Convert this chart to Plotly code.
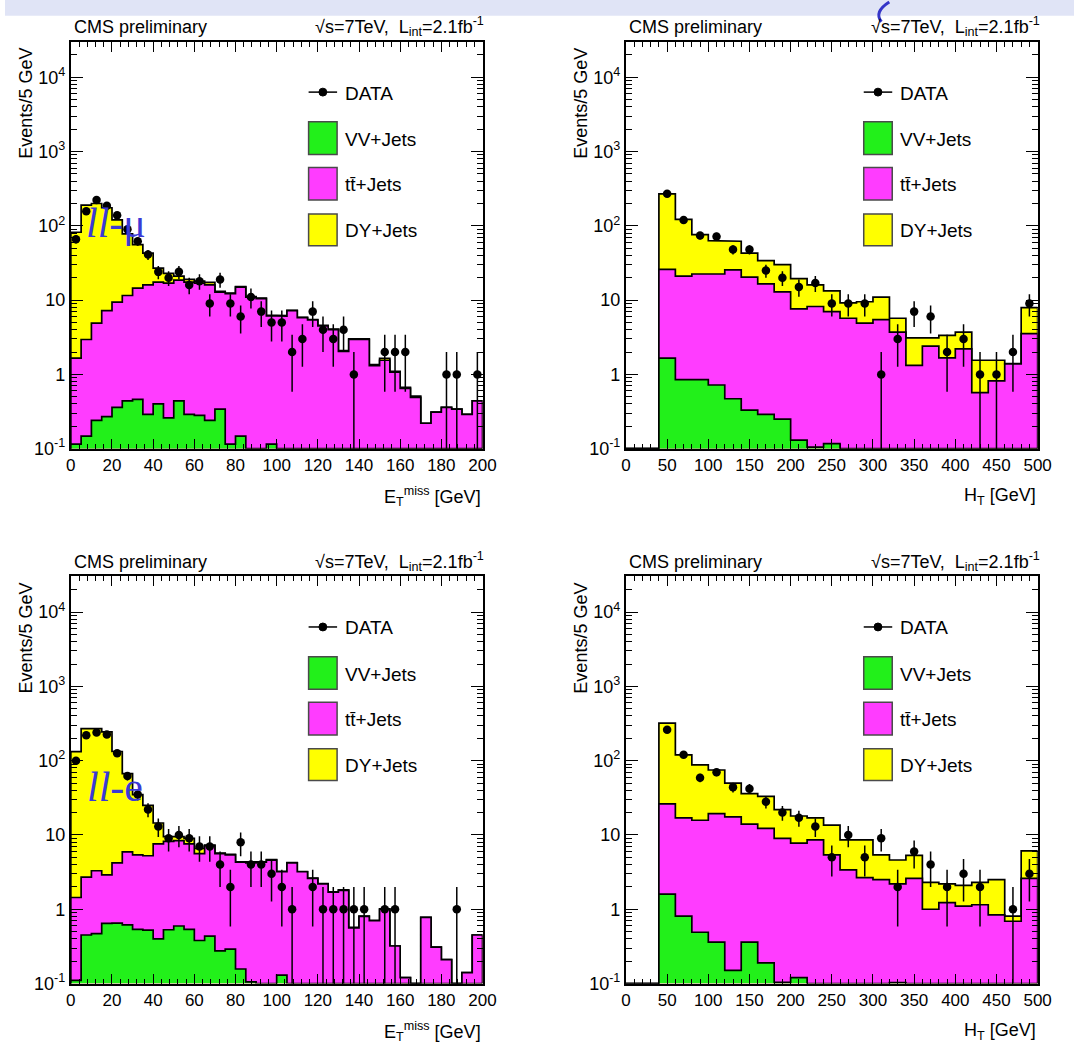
import numpy as np
import plotly.graph_objects as go

W, H = 1088, 1050
FONT = "Liberation Sans, Arial, Helvetica, sans-serif"
SERIF = "Liberation Serif, Times New Roman, serif"
GREEN = "#22f01a"
MAGENTA = "#ff3cff"
YELLOW = "#ffff00"
FLOOR = 0.1

# ---------------- data ----------------
met_edges = np.arange(0, 205, 5)
ht_edges = np.arange(0, 520, 20)

# ll-mu, MET
mu_met_vv = [0.115, 0.148, 0.24, 0.27, 0.36, 0.44, 0.46, 0.29, 0.40, 0.26,
             0.44, 0.29, 0.28, 0.24, 0.34, 0.115, 0.148, 0.10, 0.09, 0.115,
             0, 0, 0, 0, 0, 0, 0, 0, 0, 0,
             0, 0, 0, 0, 0, 0, 0, 0, 0, 0]
mu_met_tt = [1.54, 2.80, 4.66, 6.93, 9.04, 11.1, 14.0, 15.7, 17.1, 16.7,
             18.1, 17.2, 16.7, 15.8, 12.5, 12.1, 14.8, 10.9, 10.4, 6.0,
             6.1, 7.2, 5.8, 5.4, 4.5, 4.0, 2.04, 2.95, 2.95, 1.31,
             1.55, 1.07, 0.65, 0.49, 0.22, 0.31, 0.36, 0.34, 0.29, 0.44]
mu_met_dy = [80.3, 187, 195, 168, 110.6, 66.5, 41.5, 27.0, 9.5, 6.0,
             2.5, 1.5, 1.0, 1.3, 0.3, 0.2, 0.2, 0.15, 0.15, 0.1,
             0.1, 0.1, 0.08, 0.08, 0.06, 0.06, 0.05, 0.05, 0.05, 0.04,
             0.10, 0.03, 0.02, 0.02, 0, 0, 0, 0, 0, 0]
mu_met_data = [66, 157, 222, 186, 139, 90, 62, 41, 24, 20,
               24, 16, 18, 9, 19, 9, 6, 11, 7, 5,
               5, 2, 3, 7, 4, 3, 4, 1, 0, 0,
               2, 2, 2, 0, 0, 0, 1, 1, 0, 1]

# ll-mu, HT
mu_ht_vv = [0, 0, 1.66, 0.85, 0.85, 0.72, 0.47, 0.33, 0.29, 0.25, 0.13, 0.105, 0.117,
            0, 0, 0, 0, 0, 0, 0, 0, 0, 0, 0, 0]
mu_ht_tt = [0, 0, 24.3, 20.2, 21.6, 21.8, 25.1, 20.0, 16.3, 12.65, 7.47, 8.1, 6.88,
            5.7, 4.9, 5.45, 3.7, 1.32, 2.4, 1.67, 2.2, 0.57, 0.82, 1.38, 3.55]
mu_ht_dy = [0, 0, 244, 101, 53.5, 40.5, 36.4, 22.7, 17.4, 17.1, 11.9, 7.8, 6.3,
            3.5, 4.6, 5.55, 2.0, 1.78, 0.7, 1.68, 1.5, 0.98, 0.73, 0.02, 4.35]
mu_ht_data = [0, 0, 270, 120, 74, 72, 48, 48, 25, 20, 15, 17, 9,
              9, 9, 1, 3, 7, 6, 2, 3, 1, 1, 2, 9]

# ll-e, MET
e_met_vv = [0.11, 0.45, 0.47, 0.645, 0.65, 0.615, 0.535, 0.525, 0.40, 0.53,
            0.595, 0.535, 0.38, 0.435, 0.275, 0.29, 0.157, 0.105, 0, 0,
            0.13, 0.10, 0, 0, 0, 0, 0, 0, 0, 0,
            0, 0, 0, 0, 0, 0, 0, 0, 0, 0]
e_met_tt = [1.33, 2.25, 2.83, 2.26, 3.55, 5.29, 4.87, 4.73, 7.2, 7.67,
            7.8, 7.07, 5.22, 6.77, 5.33, 5.11, 4.14, 4.1, 4.3, 4.6,
            3.07, 4.1, 3.2, 2.6, 2.2, 1.7, 1.8, 0.56, 0.8, 0.7,
            1.0, 0.32, 0.12, 0, 0.78, 0.31, 0.21, 0, 0.14, 0.45]
e_met_dy = [130.6, 267.3, 266.7, 242.1, 128.8, 61.1, 29.6, 19.75, 6.9, 1.3,
            1.1, 1.4, 1.0, 0.1, 0.1, 0.1, 0.05, 0.05, 0.05, 0.05,
            0.05, 0.05, 0.02, 0.02, 0.02, 0.02, 0.02, 0.01, 0.01, 0.01,
            0.01, 0, 0, 0, 0, 0, 0, 0, 0, 0]
e_met_data = [100, 220, 240, 225, 126, 62, 35, 22, 13, 9,
              10, 9, 7, 7, 4, 2, 8, 4, 4, 3,
              2, 1, 0, 2, 1, 1, 1, 1, 1, 0,
              1, 1, 0, 0, 0, 0, 0, 1, 0, 0]

# ll-e, HT
e_ht_vv = [0, 0, 1.6, 0.81, 0.49, 0.36, 0.15, 0.36, 0.19, 0.104, 0.12, 0, 0,
           0, 0, 0, 0.103, 0, 0, 0, 0, 0, 0, 0, 0]
e_ht_tt = [0, 0, 24.7, 16.2, 15.3, 19.0, 17.35, 13.64, 12.1, 8.9, 7.63, 8.6, 5.4,
           3.4, 2.66, 2.5, 2.1, 2.6, 1.0, 1.23, 1.1, 1.15, 0.84, 0.69, 2.6]
e_ht_dy = [0, 0, 293.7, 103, 72.2, 55.6, 32.5, 22, 20.7, 13, 10.25, 8.4, 8.2,
           5.2, 5.94, 2.9, 2.4, 2.7, 1.3, 0.97, 1.0, 1.15, 1.66, 0.12, 3.5]
e_ht_data = [0, 0, 260, 120, 59, 70, 44, 42, 28, 20, 17, 13, 5,
             10, 5, 9, 2, 6, 4, 2, 3, 2, 0, 1, 3]

y_tickvals = [0.1, 1, 10, 100, 1000, 10000]
y_ticktext = ["10<sup>-1</sup>", "1", "10", "10<sup>2</sup>", "10<sup>3</sup>", "10<sup>4</sup>"]
legend_labels = ["DATA", "VV+Jets", "tt\u0304+Jets", "DY+Jets"]

MET_TITLE = "E<sub>T</sub><sup>miss</sup> [GeV]"
HT_TITLE = "H<sub>T</sub> [GeV]"

panels = [
    dict(px=(67, 486), py=(42, 453), edges=met_edges, vv=mu_met_vv, tt=mu_met_tt, dy=mu_met_dy,
         data=mu_met_data, xmax=200, dtick=20, minor=4, xtitle=MET_TITLE,
         tag="<i>ll</i>-\u03bc", tagpos=(113, 225)),
    dict(px=(632, 1051), py=(42, 453), edges=ht_edges, vv=mu_ht_vv, tt=mu_ht_tt, dy=mu_ht_dy,
         data=mu_ht_data, xmax=500, dtick=50, minor=10, xtitle=HT_TITLE, tag=None),
    dict(px=(67, 486), py=(582, 993), edges=met_edges, vv=e_met_vv, tt=e_met_tt, dy=e_met_dy,
         data=e_met_data, xmax=200, dtick=20, minor=4, xtitle=MET_TITLE,
         tag="<i>ll</i>-e", tagpos=(112, 795)),
    dict(px=(632, 1051), py=(582, 993), edges=ht_edges, vv=e_ht_vv, tt=e_ht_tt, dy=e_ht_dy,
         data=e_ht_data, xmax=500, dtick=50, minor=10, xtitle=HT_TITLE, tag=None),
]


def fx(p):
    return p / W


def fy(p):
    return 1 - p / H


minor_y = [k * 10.0 ** e for e in range(-1, 5) for k in range(2, 10)]

fig = go.Figure()
shapes = []
annotations = []
layout = {}

for k, p in enumerate(panels, start=1):
    xa = "x" if k == 1 else f"x{k}"
    ya = "y" if k == 1 else f"y{k}"
    xkey = "xaxis" if k == 1 else f"xaxis{k}"
    ykey = "yaxis" if k == 1 else f"yaxis{k}"
    edges = np.asarray(p["edges"], float)
    vv = np.asarray(p["vv"], float)
    tt = np.asarray(p["tt"], float)
    dy = np.asarray(p["dy"], float)
    tops = [(vv + tt + dy, YELLOW), (vv + tt, MAGENTA), (vv, GREEN)]
    for top, color in tops:
        xs = [edges[0]]
        ys = [FLOOR]
        for i in range(len(top)):
            t = max(top[i], FLOOR)
            xs += [edges[i], edges[i + 1]]
            ys += [t, t]
        xs.append(edges[-1])
        ys.append(FLOOR)
        fig.add_trace(go.Scatter(x=xs, y=ys, mode="lines", fill="toself", fillcolor=color,
                                 line=dict(color="black", width=1.7), xaxis=xa, yaxis=ya,
                                 hoverinfo="skip", showlegend=False))
    d = np.asarray(p["data"], float)
    centers = 0.5 * (edges[:-1] + edges[1:])
    m = d > 0
    fig.add_trace(go.Scatter(x=centers[m], y=d[m], mode="markers",
                             marker=dict(color="black", size=8.5),
                             error_y=dict(type="data", array=np.sqrt(d[m]), color="black",
                                          thickness=1.5, width=0),
                             xaxis=xa, yaxis=ya, showlegend=False, cliponaxis=True))

    px0, px1 = p["px"]
    py0, py1 = p["py"]
    layout[xkey] = dict(domain=[fx(px0), fx(px1)], range=[0, p["xmax"]], anchor=ya,
                        showline=True, linewidth=2, linecolor="black", mirror="allticks",
                        ticks="inside", ticklen=10, tickwidth=1.3, tickcolor="black",
                        tick0=0, dtick=p["dtick"], showgrid=False, zeroline=False,
                        minor=dict(ticks="inside", ticklen=5, tickwidth=1, tickcolor="black",
                                   tick0=0, dtick=p["minor"], showgrid=False),
                        tickfont=dict(family=FONT, size=17, color="black"))
    layout[ykey] = dict(domain=[fy(py1), fy(py0)], type="log", range=[-1, 4.48], anchor=xa,
                        showline=True, linewidth=2, linecolor="black", mirror="allticks",
                        ticks="inside", ticklen=12, tickwidth=1.3, tickcolor="black",
                        tickmode="array", tickvals=y_tickvals, ticktext=y_ticktext,
                        showgrid=False, zeroline=False,
                        minor=dict(ticks="inside", ticklen=6, tickwidth=1, tickcolor="black",
                                   tickmode="array", tickvals=minor_y, showgrid=False),
                        tickfont=dict(family=FONT, size=18, color="black"))

    # headers
    annotations.append(dict(x=fx(px0 + 1), y=fy(py0 - 15), xref="paper", yref="paper",
                            text="CMS preliminary", showarrow=False, xanchor="left",
                            yanchor="middle", font=dict(family=FONT, size=18, color="black")))
    annotations.append(dict(x=fx(px1 + 4), y=fy(py0 - 15), xref="paper", yref="paper",
                            text="\u221as=7TeV,  L<sub>int</sub>=2.1fb<sup>-1</sup>",
                            showarrow=False, xanchor="right", yanchor="middle",
                            font=dict(family=FONT, size=18, color="black")))
    # axis titles
    annotations.append(dict(x=fx(px1), y=fy(py1 + 48), xref="paper", yref="paper",
                            text=p["xtitle"], showarrow=False, xanchor="right",
                            yanchor="middle", font=dict(family=FONT, size=18, color="black")))
    annotations.append(dict(x=fx(px0 - 46), y=fy(py0 + 62), xref="paper", yref="paper",
                            text="Events/5 GeV", showarrow=False, textangle=-90,
                            xanchor="center", yanchor="middle",
                            font=dict(family=FONT, size=18, color="black")))
    # legend (drawn manually, ROOT style)
    lx0 = px0 + 242
    lx1 = px0 + 271
    shapes.append(dict(type="line", xref="paper", yref="paper", x0=fx(lx0), x1=fx(lx1),
                       y0=fy(py0 + 51), y1=fy(py0 + 51), line=dict(color="black", width=1.5)))
    shapes.append(dict(type="circle", xref="paper", yref="paper", x0=fx(lx0 + 10.5),
                       x1=fx(lx0 + 18.5), y0=fy(py0 + 55), y1=fy(py0 + 47),
                       fillcolor="black", line=dict(color="black", width=1)))
    annotations.append(dict(x=fx(px0 + 277), y=fy(py0 + 52), xref="paper", yref="paper",
                            text=legend_labels[0], showarrow=False, xanchor="left",
                            yanchor="middle", font=dict(family=FONT, size=19, color="black")))
    boxes = [(81, 114, GREEN, legend_labels[1]), (127, 160, MAGENTA, legend_labels[2]),
             (174, 206, YELLOW, legend_labels[3])]
    for b0, b1, col, lab in boxes:
        shapes.append(dict(type="rect", xref="paper", yref="paper", x0=fx(lx0), x1=fx(lx1),
                           y0=fy(py0 + b1), y1=fy(py0 + b0), fillcolor=col,
                           line=dict(color="#4a4a4a", width=1.5)))
        annotations.append(dict(x=fx(px0 + 277), y=fy(py0 + (b0 + b1) / 2 + 1), xref="paper",
                                yref="paper", text=lab, showarrow=False, xanchor="left",
                                yanchor="middle", font=dict(family=FONT, size=19, color="black")))
    if p["tag"]:
        tx, ty = p["tagpos"]
        annotations.append(dict(x=fx(tx), y=fy(ty), xref="paper", yref="paper", text=p["tag"],
                                showarrow=False, xanchor="center", yanchor="middle",
                                font=dict(family=SERIF, size=42, color="#3a3ad6")))

# faint slide-header strip at the very top
shapes.insert(0, dict(type="rect", xref="paper", yref="paper", x0=0, x1=1, y0=fy(16), y1=1,
                      fillcolor="rgba(214,219,243,0.75)", line=dict(width=0), layer="below"))
shapes.append(dict(type="path", xref="paper", yref="paper",
                   path=f"M {fx(900)} {fy(2)} Q {fx(884)} {fy(12)} {fx(892)} {fy(22)}",
                   line=dict(color="#3535c8", width=3)))

fig.update_layout(width=W, height=H, margin=dict(l=0, r=0, t=0, b=0),
                  paper_bgcolor="white", plot_bgcolor="white", showlegend=False,
                  shapes=shapes, annotations=annotations, **layout)

fig.write_html("out.html")
